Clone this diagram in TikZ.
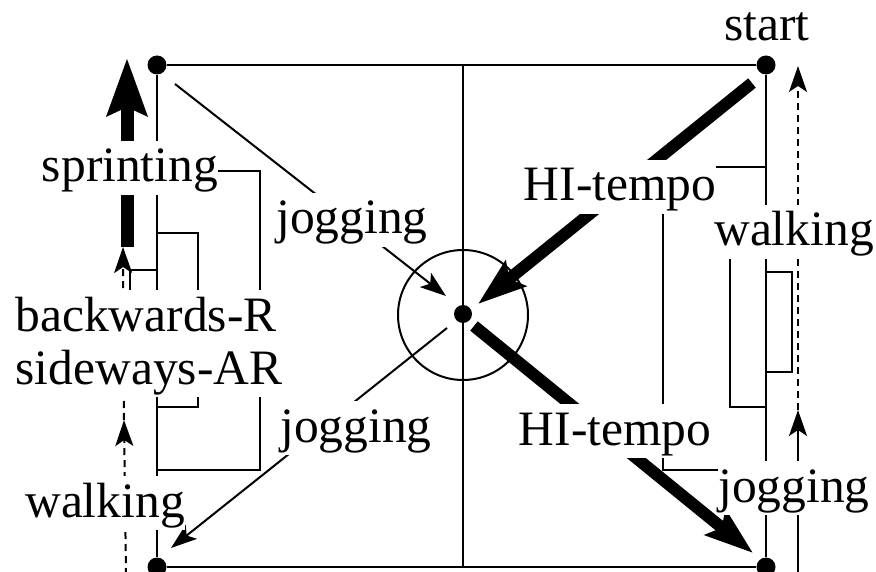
\documentclass[tikz,border=0pt]{standalone}
\usepackage{fontspec}
\setmainfont{Liberation Serif}
\usetikzlibrary{arrows.meta,backgrounds}

\begin{document}
\begin{tikzpicture}[x=1pt, y=-1pt, >=Stealth,
    wire/.style={line width=2pt},
    corner/.style={circle, fill=black, inner sep=0pt, minimum size=19pt},
    lbl/.style={anchor=base, fill=white, inner xsep=0pt, inner ysep=0pt, text height=41pt, text depth=13pt, font=\fontsize{49.5}{50}\selectfont},
    slim/.style={wire, -{Stealth[length=26pt,width=18pt,inset=6pt]}},
    walk/.style={slim, dash pattern=on 7pt off 5pt},
    heavy/.style={-{Stealth[length=48pt,width=32pt,inset=8pt]}, line width=12pt},
    sprint/.style={-{Stealth[length=57pt,width=39pt,inset=8pt]}, line width=13pt}]

                      \useasboundingbox (0,0) rectangle (876,572);

                      \node[corner]  (tl)  at (157,65)  {};
                      \node[corner]  (tr)  at (766,65)  {};
                      \node[corner]  (bl)  at (157,567) {};
                      \node[corner]  (br)  at (766,567) {};
                      \node[corner, minimum size=18pt] (mid) at (463,314) {};

                      \node[lbl, fill=none] (start) at (767,41)  {start};
                      \node[lbl] (sprinting)  at (130,182) {sprinting};
                      \node[lbl] (jogNW)      at (352,234) {jogging};
                      \node[lbl] (hiNE)       at (620,201) {HI-tempo};
                      \node[lbl] (walkE)      at (794,246) {walking};
                      \node[lbl] (backwards)  at (146,331) {backwards-R};
                      \node[lbl] (sideways)   at (149,384) {sideways-AR};
                      \node[lbl] (jogSW)      at (356,442) {jogging};
                      \node[lbl] (walkW)      at (105,517) {walking};
                      \node[lbl] (hiSE)       at (615,445) {HI-tempo};
                      \node[lbl] (jogE)       at (794,502) {jogging};

                      \coordinate (topmid) at (tl -| mid);
                      \coordinate (botmid) at (bl -| mid);
                      \coordinate (hiNEs) at (752,83);
                      \coordinate (hiNEt) at (478,304);
                      \coordinate (hiSEs) at (474,326);
                      \coordinate (hiSEt) at (753,553);
                      \coordinate (jogNWs) at (175,84);
                      \coordinate (jogNWt) at (446,296);
                      \coordinate (jogSWs) at (447,328);
                      \coordinate (jogSWt) at (171,548);

                      \begin{scope}[on background layer]
                      \node[wire, draw, circle, inner sep=0pt, minimum size=130pt] (ring) at (463,315) {};
                      \draw[wire] (tl) -- (tr) -- (br) -- (bl) -- (tl);
                      \draw[wire] (topmid) -- (botmid);

                      % left side
                      \draw[wire] (157,470) -- (260,470) -- (260,171) -- (sprinting.east |- 260,171);
                      \draw[wire] (157,233) -- (198,233) -- (198,407) -- (157,407);
                      \draw[wire] (157,270) -- (130,270) -- (130,300);

                      % right side
                      \draw[wire] (766,167) -- (663,167) -- (663,470) -- (jogE.west |- 663,470);
                      \draw[wire] (766,230) -- (730,230) -- (730,407) -- (766,407);
                      \draw[wire] (766,272) -- (792,272) -- (792,372) -- (766,372);

                      % runs
                      \draw[sprint] (127,247) -- (127,58);
                      \draw[walk] (124,420) -- (123,247);
                      \draw[walk] (126,575) -- (124,420);
                      \draw[slim] (798,575) -- (798,410);
                      \draw[walk] (798,410) -- (798,66);
                      \draw[heavy] (hiNEs) -- (hiNEt);
                      \draw[heavy] (hiSEs) -- (hiSEt);
                      \draw[slim] (jogNWs) -- (jogNWt);
                      \draw[slim] (jogSWs) -- (jogSWt);
                      \end{scope}
\end{tikzpicture}
\end{document}
